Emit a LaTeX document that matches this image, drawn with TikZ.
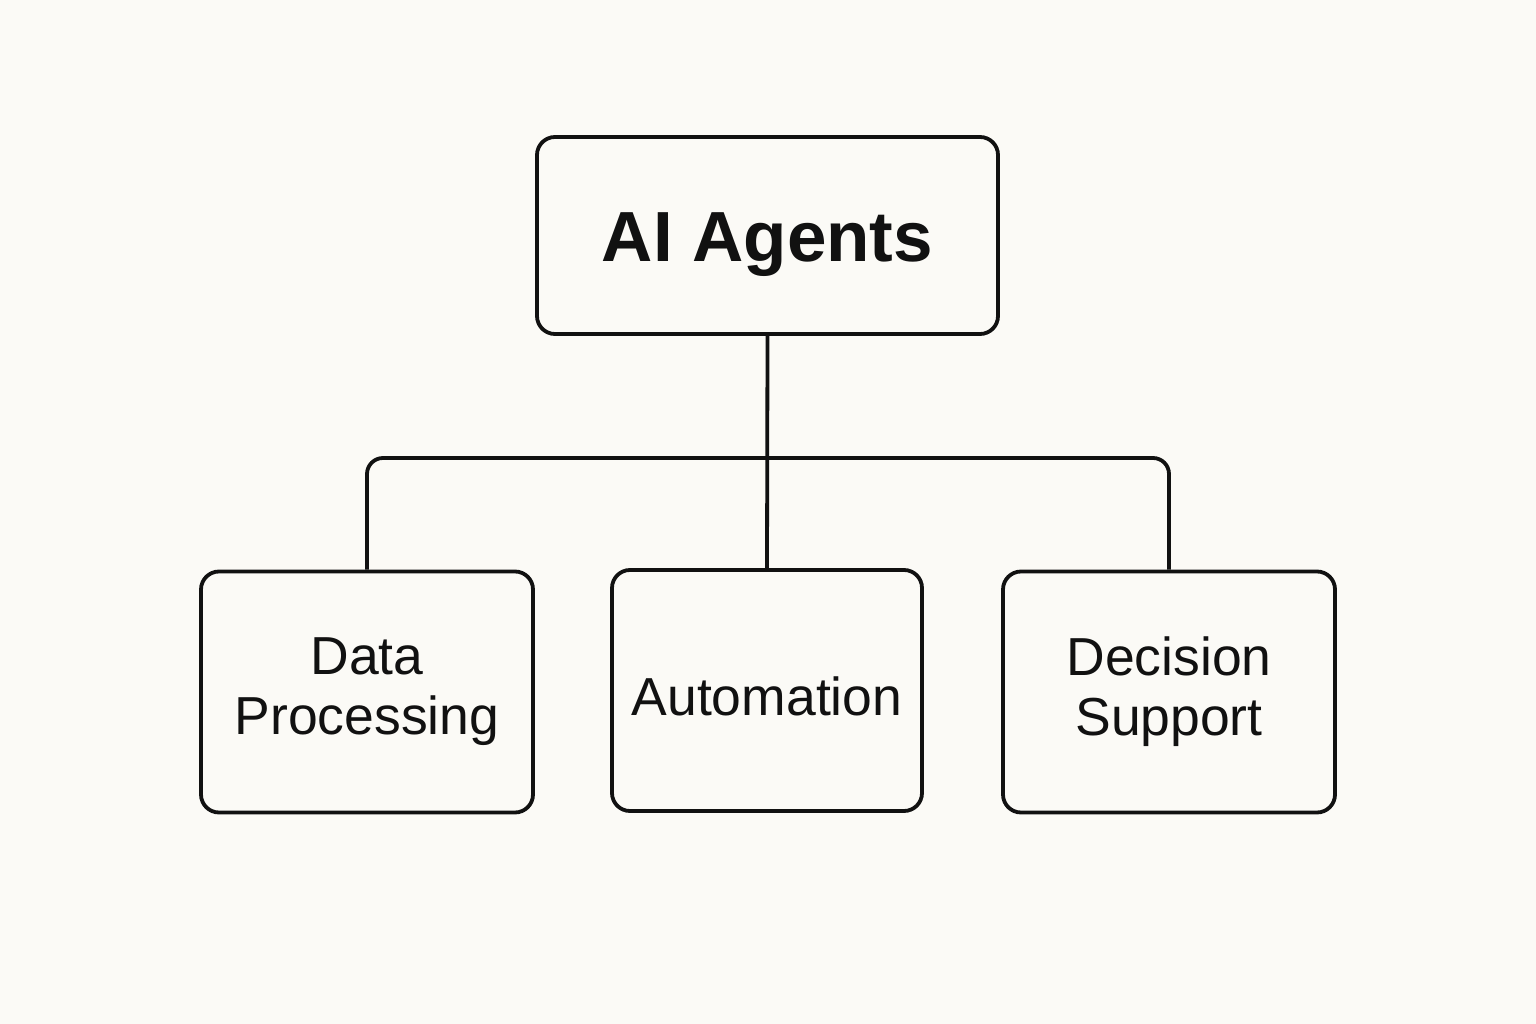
\documentclass[tikz,border=0pt]{standalone}
\usepackage{fontspec}
\setmainfont{Liberation Sans}
\definecolor{bg}{HTML}{FBFAF6}
\definecolor{ink}{HTML}{111111}
\begin{document}
\begin{tikzpicture}[x=1pt,y=1pt,
  box/.style={draw=ink, line width=3.8pt, rounded corners=18pt, fill=bg, align=center, inner sep=0pt, text=ink},
  conn/.style={draw=ink, line width=3.8pt, rounded corners=16pt},
  lbl/.style={font=\fontsize{53.5}{60}\selectfont}]
\fill[bg] (0,0) rectangle (1536,-1024);
\useasboundingbox (0,0) rectangle (1536,-1024);
\node[box, minimum width=461pt, minimum height=197pt, font=\fontsize{71}{80}\selectfont\bfseries] (top) at (767.5,-235.5) {\raisebox{-26pt}[0pt][0pt]{AI Agents}};
\node[box, lbl, minimum width=332pt, minimum height=241pt] (left) at (367,-692) {Data\\Processing};
\node[box, lbl, minimum width=310pt, minimum height=241pt] (mid) at (767,-690.5) {\raisebox{-25pt}[0pt][0pt]{Automation}};
\node[box, lbl, minimum width=332pt, minimum height=241pt] (right) at (1169,-692) {Decision\\Support};
\coordinate (bar) at (767,-458);
\draw[conn] (top.south) -- (mid.north);
\draw[conn] (left.north) |- (bar) -| (right.north);
\end{tikzpicture}
\end{document}
